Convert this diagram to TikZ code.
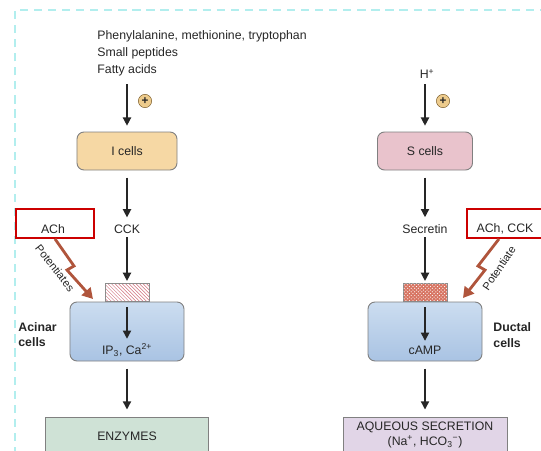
\documentclass[tikz,border=0pt]{standalone}
\usepackage{fontspec}
\setmainfont{Liberation Sans}
\usetikzlibrary{arrows.meta,patterns}
\definecolor{frameC}{HTML}{B2EEEE}
\definecolor{boltC}{HTML}{B0553C}
\definecolor{plusC}{HTML}{EDCB8C}
\definecolor{plusD}{HTML}{7A5C2A}
\definecolor{icellC}{HTML}{F6D8A4}
\definecolor{scellC}{HTML}{E9C3CC}
\definecolor{cellTop}{HTML}{CCDDF0}
\definecolor{cellBot}{HTML}{A9C3E3}
\definecolor{enzC}{HTML}{CFE2D6}
\definecolor{aqC}{HTML}{E1D5E7}
\definecolor{hatchC}{HTML}{D0707E}
\definecolor{dotC}{HTML}{C9472F}
\begin{document}
\begin{tikzpicture}[x=0.03cm, y=-0.03cm,
  font=\fontsize{10.5}{12.5}\selectfont, text=black!85,
  arr/.style={-{Triangle[length=7pt,width=7pt]}, line width=1.2pt, draw=black!85},
  cellbox/.style={draw=black!50, thick, rounded corners=6pt},
  lbl/.style={inner sep=1pt},
  redbox/.style={draw=red!80!black, line width=1.6pt, minimum width=2.34cm, minimum height=0.87cm},
  bolt/.style={-{Triangle[length=9pt,width=10pt]}, line width=2.4pt, draw=boltC},
  plus/.style={circle, draw=plusD, fill=plusC, inner sep=0pt, minimum size=0.4cm, font=\bfseries\fontsize{10}{10}\selectfont}]
\useasboundingbox (0,0) rectangle (541,450);
\clip (0,0) rectangle (541,450);
\draw[frameC, line width=1.7pt, dash pattern=on 7pt off 5pt] (15,455) -- (15,10) -- (545,10);

\node[anchor=north west, align=left, lbl, font=\fontsize{10.5}{14.5}\selectfont] (G1Src) at (96,29) {Phenylalanine, methionine, tryptophan\\Small peptides\\Fatty acids};
\coordinate (G1In) at (127,84);
\node[plus] (G1Plus) at (145,101) {+};
\node[cellbox, fill=icellC, minimum width=3cm, minimum height=1.14cm] (G1Icell) at (127,151) {I cells};
\node[lbl] (G1CCK) at (127,229) {CCK};
\node[redbox] (G1Mod) at (55,223.5) {};
\node[lbl] (G1ACh) at (53,229) {ACh};
\node[draw=black!45, fill=white, pattern=north west lines, pattern color=hatchC, minimum width=1.32cm, minimum height=0.54cm, inner sep=0pt] (G1Rec) at (127,292.5) {};
\node[cellbox, top color=cellTop, bottom color=cellBot, minimum width=3.42cm, minimum height=1.77cm] (G1Acinar) at (127,331.5) {};
\node[lbl] (G1Sig) at (127,350) {IP\textsubscript{3}, Ca\textsuperscript{2+}};
\node[anchor=west, align=left, lbl, font=\bfseries\fontsize{10.5}{13}\selectfont] (G1Name) at (17,334.5) {Acinar\\cells};
\node[draw=black!50, thick, fill=enzC, minimum width=4.89cm, minimum height=1.2cm] (G1Out) at (127,437) {};
\node[lbl] (G1OutTxt) at (127,436) {ENZYMES};
\coordinate (G1Hit) at (93,299);
\node[lbl, rotate=-52, font=\fontsize{9.5}{11}\selectfont] (G1Pot) at (55,268) {Potentiates};

\node[lbl] (G2Src) at (427,74) {H\textsuperscript{+}};
\coordinate (G2In) at (425,84);
\node[plus] (G2Plus) at (443,101) {+};
\node[cellbox, fill=scellC, minimum width=2.85cm, minimum height=1.14cm] (G2Scell) at (425,151) {S cells};
\node[lbl] (G2Sec) at (425,229) {Secretin};
\node[redbox] (G2Mod) at (506,223.5) {};
\node[lbl] (G2ACh) at (505,229) {ACh, CCK};
\node[draw=black!45, fill=dotC!75!white, minimum width=1.32cm, minimum height=0.54cm, inner sep=0pt] (G2Rec) at (425,292.5) {};
\fill[pattern=crosshatch dots, pattern color=white] (G2Rec.south west) rectangle (G2Rec.north east);
\node[cellbox, top color=cellTop, bottom color=cellBot, minimum width=3.42cm, minimum height=1.77cm] (G2Ductal) at (425,331.5) {};
\node[lbl] (G2Sig) at (425,350) {cAMP};
\node[anchor=west, align=left, lbl, font=\bfseries\fontsize{10.5}{13}\selectfont] (G2Name) at (492,335) {Ductal\\cells};
\node[draw=black!50, thick, fill=aqC, minimum width=4.92cm, minimum height=1.08cm] (G2Out) at (425,435) {};
\node[lbl, align=center, font=\fontsize{10.5}{12.5}\selectfont] (G2OutTxt) at (425,435) {AQUEOUS SECRETION\\(Na\textsuperscript{+}, HCO\textsubscript{3}\textsuperscript{−})};
\coordinate (G2Hit) at (463,298);
\node[lbl, rotate=56, font=\fontsize{9.5}{11}\selectfont] (G2Pot) at (499,268) {Potentiate};

\draw[arr, shorten >=5pt] (G1In) -- (G1Icell.north);
\draw[arr, shorten <=6pt, shorten >=5pt] (G1Icell.south) -- (G1CCK.north);
\draw[arr, shorten <=2pt, shorten >=2pt] (G1CCK.south) -- (G1Rec.north);
\draw[arr, shorten >=3pt] ([yshift=-5pt]G1Acinar.north) -- (G1Sig.north);
\draw[arr, shorten <=6pt, shorten >=6pt] (G1Acinar.south) -- (G1Out.north);
\draw[bolt] (G1Mod.south) -- (74,266) -- (67,270) -- (G1Hit);

\draw[arr, shorten >=5pt] (G2In) -- (G2Scell.north);
\draw[arr, shorten <=6pt, shorten >=5pt] (G2Scell.south) -- (G2Sec.north);
\draw[arr, shorten <=2pt, shorten >=2pt] (G2Sec.south) -- (G2Rec.north);
\draw[arr, shorten >=3pt] ([yshift=-5pt]G2Ductal.north) -- (G2Sig.north);
\draw[arr, shorten <=6pt, shorten >=6pt] (G2Ductal.south) -- (G2Out.north);
\draw[bolt] ([xshift=-6pt]G2Mod.south) -- (478,266) -- (485,270) -- (G2Hit);
\end{tikzpicture}
\end{document}
